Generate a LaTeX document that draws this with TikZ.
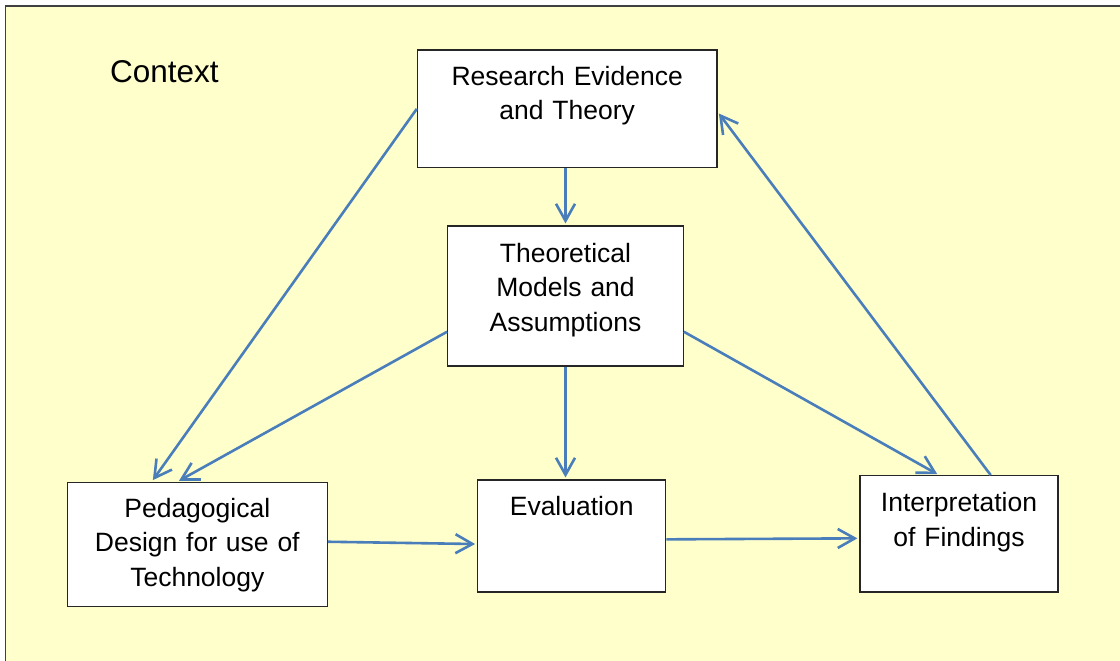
\documentclass[tikz,border=0pt]{standalone}
\usepackage{fontspec}
\setmainfont{Liberation Sans}
\usepackage{xcolor}
\usetikzlibrary{arrows.meta,positioning,calc}
\definecolor{ctxyellow}{HTML}{FFFFCC}
\definecolor{linkblue}{HTML}{4A7EBB}

\begin{document}
\begin{tikzpicture}[
  x=1pt,y=-1pt,
  block/.style={rectangle,draw=black!85,line width=1.2pt,fill=white,inner sep=0pt,
                align=center,text height=35pt,font=\fontsize{26.5}{34.5}\selectfont},
  arr/.style={-{Straight Barb[length=17pt,width=19pt]},line width=2.6pt,draw=linkblue,shorten >=2pt}
]
  \useasboundingbox (0,0) rectangle (1120,661);
  \draw[fill=ctxyellow,draw=black!75,line width=1.6pt] (5.5,6) rectangle (1135,675);
  \node[anchor=base west,inner sep=0pt,font=\fontsize{31.5}{38}\selectfont] (ctx) at (110,82.7) {Context};

  \node[block,text width=299.7pt,text depth=82.7pt] (rese) at (567.2,108.9) {Research Evidence\\and Theory};
  \node[block,text width=235.6pt,text height=36.3pt,text depth=103.7pt,below=57.1pt of rese,xshift=-1.7pt] (theo) {Theoretical\\Models and\\Assumptions};
  \node[block,text width=188pt,text depth=77pt,below=112.8pt of theo,xshift=6.2pt] (eval) {Evaluation};
  \node[block,text width=260pt,text depth=89.4pt,left=149.2pt of eval,yshift=-8.5pt] (ped) {Pedagogical\\Design for use of\\Technology};
  \node[block,text width=198pt,text height=36pt,text depth=80.3pt,right=193.1pt of eval,yshift=2.2pt] (interp) {Interpretation\\of Findings};

  \draw[arr] (rese.south -| theo.north) -- (theo.north);
  \draw[arr] (rese.west) -- ([xshift=-45.6pt]ped.north);
  \draw[arr] ([yshift=-35.7pt]theo.west) -- ([xshift=-20pt]ped.north);
  \draw[arr] (theo.south) -- (theo.south |- eval.north);
  \draw[arr] ([yshift=-35.7pt]theo.east) -- ([xshift=-20pt]interp.north);
  \draw[arr] ([xshift=31.7pt]interp.north) -- ([yshift=-3pt]rese.east);
  \draw[arr] ([yshift=2.8pt]ped.east) -- ([yshift=-8pt]eval.west);
  \draw[arr] ([yshift=-3.3pt]eval.east) -- ([yshift=-4.5pt]interp.west);
\end{tikzpicture}
\end{document}
